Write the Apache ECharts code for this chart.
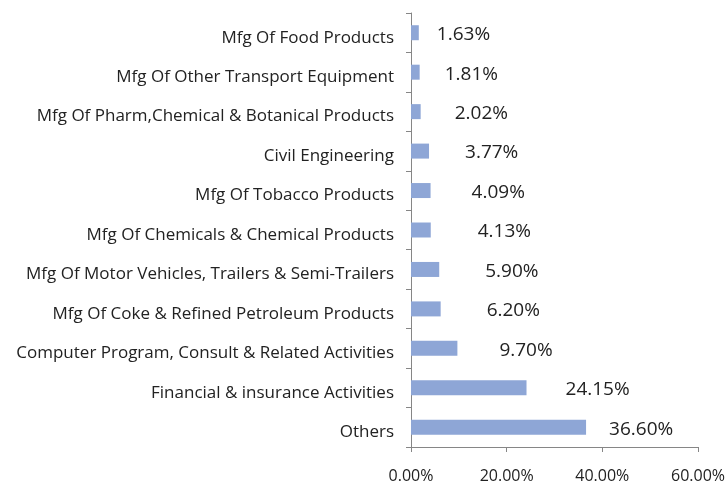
<!DOCTYPE html>
<html>
<head>
<meta charset="utf-8">
<script src="https://cdn.jsdelivr.net/npm/echarts@6/dist/echarts.min.js"></script>
<style>html,body{margin:0;padding:0;background:#fff}#c{width:728px;height:484px}</style>
</head>
<body>
<div id="c"></div>
<script>
var categories = [
  "Mfg Of Food Products",
  "Mfg Of Other Transport Equipment",
  "Mfg Of Pharm,Chemical & Botanical Products",
  "Civil Engineering",
  "Mfg Of Tobacco Products",
  "Mfg Of Chemicals & Chemical Products",
  "Mfg Of Motor Vehicles, Trailers & Semi-Trailers",
  "Mfg Of Coke & Refined Petroleum Products",
  "Computer Program, Consult & Related Activities",
  "Financial & insurance Activities",
  "Others"
];
var values = [1.63, 1.81, 2.02, 3.77, 4.09, 4.13, 5.90, 6.20, 9.70, 24.15, 36.60];
var xTicks = [0, 20, 40, 60];
// label gap from bar end (style only)
var labelGaps = [18, 25, 34, 36, 41, 47, 46, 46, 42, 39, 23];

var FONT = "Open Sans";
var chart = echarts.init(document.getElementById('c'), null, {renderer: 'canvas'});
chart.setOption({
  animation: false,
  grid: {left: 411, right: 28, top: 13, bottom: 36, containLabel: false},
  xAxis: {
    type: 'value', min: xTicks[0], max: xTicks[xTicks.length - 1], interval: 20,
    splitLine: {show: false},
    axisLine: {show: true, lineStyle: {color: '#868686', width: 1}},
    axisTick: {show: true, length: 5, lineStyle: {color: '#868686'}},
    axisLabel: {
      margin: 21, color: '#222', fontFamily: FONT, fontSize: 16,
      formatter: function (v) { return v.toFixed(2) + '%'; }
    }
  },
  yAxis: {
    type: 'category', data: categories, inverse: true,
    axisLine: {show: true, lineStyle: {color: '#868686', width: 1}},
    axisTick: {show: true, length: 5, lineStyle: {color: '#868686'}},
    axisLabel: {margin: 17, color: '#222', fontFamily: FONT, fontSize: 17,
      verticalAlign: 'top', lineHeight: 10}
  },
  series: [{
    type: 'bar', barWidth: 15,
    itemStyle: {color: '#8EA6D6'},
    data: values.map(function (v, i) {
      return {value: v, label: {distance: labelGaps[i]}};
    }),
    label: {
      show: true, position: 'right', color: '#222', fontFamily: FONT, fontSize: 19,
      offset: [0, 2],
      formatter: function (p) { return p.value.toFixed(2) + '%'; }
    }
  }]
});
</script>
</body>
</html>
